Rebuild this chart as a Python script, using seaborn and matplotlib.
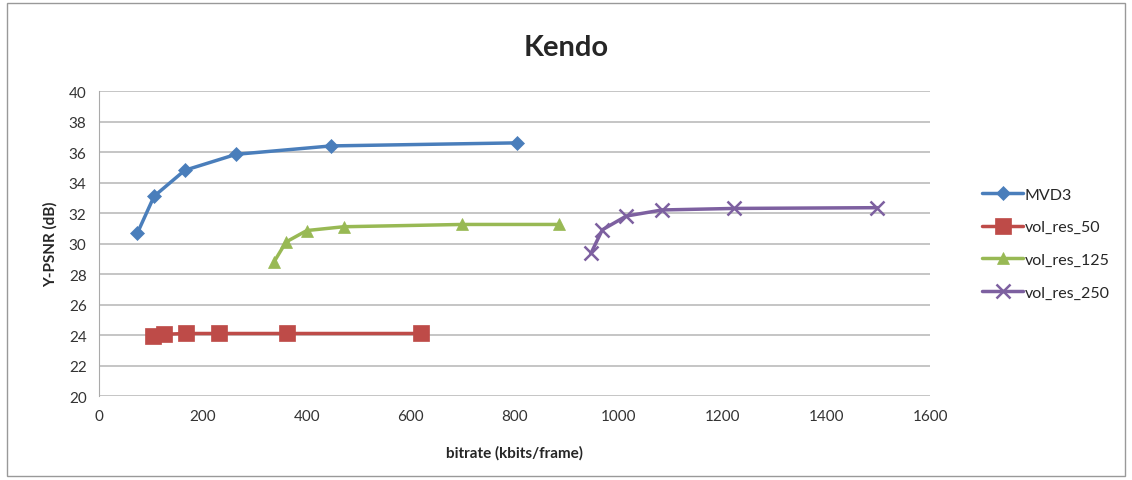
import numpy as np
import pandas as pd
import matplotlib
matplotlib.use('Agg')
import matplotlib.pyplot as plt
import seaborn as sns
from matplotlib.patches import Rectangle

# values
mvd3_x = [74, 106, 165, 264, 447, 805]
mvd3_y = [30.7, 33.1, 34.8, 35.85, 36.4, 36.6]
res50_x = [104, 126, 168, 231, 362, 620]
res50_y = [23.95, 24.05, 24.1, 24.1, 24.1, 24.1]
res125_x = [337, 360, 400, 471, 699, 885]
res125_y = [28.8, 30.1, 30.85, 31.1, 31.25, 31.25]
res250_x = [947, 969, 1015, 1084, 1222, 1498]
res250_y = [29.35, 30.9, 31.8, 32.2, 32.3, 32.35]
series = ['MVD3', 'vol_res_50', 'vol_res_125', 'vol_res_250']

frames = []
for name, xs, ys in zip(series, [mvd3_x, res50_x, res125_x, res250_x],
                        [mvd3_y, res50_y, res125_y, res250_y]):
    frames.append(pd.DataFrame({'bitrate': xs, 'psnr': ys, 'series': name}))
df = pd.concat(frames, ignore_index=True)

sns.set_style('white')
plt.rcParams['font.family'] = ['Lato', 'DejaVu Sans']

palette = {'MVD3': '#4A7EBB', 'vol_res_50': '#BE4B48', 'vol_res_125': '#98B954', 'vol_res_250': '#7D60A0'}
markers = {'MVD3': 'D', 'vol_res_50': 's', 'vol_res_125': '^', 'vol_res_250': 'x'}
sizes = {'MVD3': 7, 'vol_res_50': 11, 'vol_res_125': 9, 'vol_res_250': 10}

fig = plt.figure(figsize=(11.32, 4.81), dpi=100)
ax = fig.add_axes([0.0875, 0.1746, 0.7341, 0.6341])

for name in series:
    sub = df[df['series'] == name]
    sns.lineplot(data=sub, x='bitrate', y='psnr', ax=ax, color=palette[name],
                 marker=markers[name], markersize=sizes[name], linewidth=2.5,
                 markeredgewidth=1.8 if name == 'vol_res_250' else 0.5,
                 markeredgecolor=palette[name], sort=False, label=name)

ax.set_xlim(0, 1600)
ax.set_ylim(20, 40)
ax.set_xticks(np.arange(0, 1601, 200))
ax.set_yticks(np.arange(20, 41, 2))
ax.yaxis.grid(True, color='#BBBBBB', linewidth=1.2)
ax.xaxis.grid(False)
for s in ['top', 'right', 'bottom']:
    ax.spines[s].set_visible(False)
ax.spines['left'].set_color('#AAAAAA')
ax.tick_params(axis='both', labelsize=11, colors='#333333', length=0, pad=9)
ax.set_xlabel('bitrate (kbits/frame)', fontsize=11, fontweight='bold', labelpad=16)
ax.set_ylabel('Y-PSNR (dB)', fontsize=11, fontweight='bold', labelpad=8)
fig.text(0.5, 0.9, 'Kendo', ha='center', va='center', fontsize=21, fontweight='bold')

ax.legend(loc='center left', bbox_to_anchor=(1.045, 0.5), frameon=False,
          fontsize=11.5, handlelength=2.6, labelspacing=1.15, handletextpad=0.1)

fig.patches.append(Rectangle((0.006, 0.008), 0.988, 0.984, transform=fig.transFigure,
                             fill=False, edgecolor='#999999', linewidth=1))

fig.savefig('out.png', dpi=100)
